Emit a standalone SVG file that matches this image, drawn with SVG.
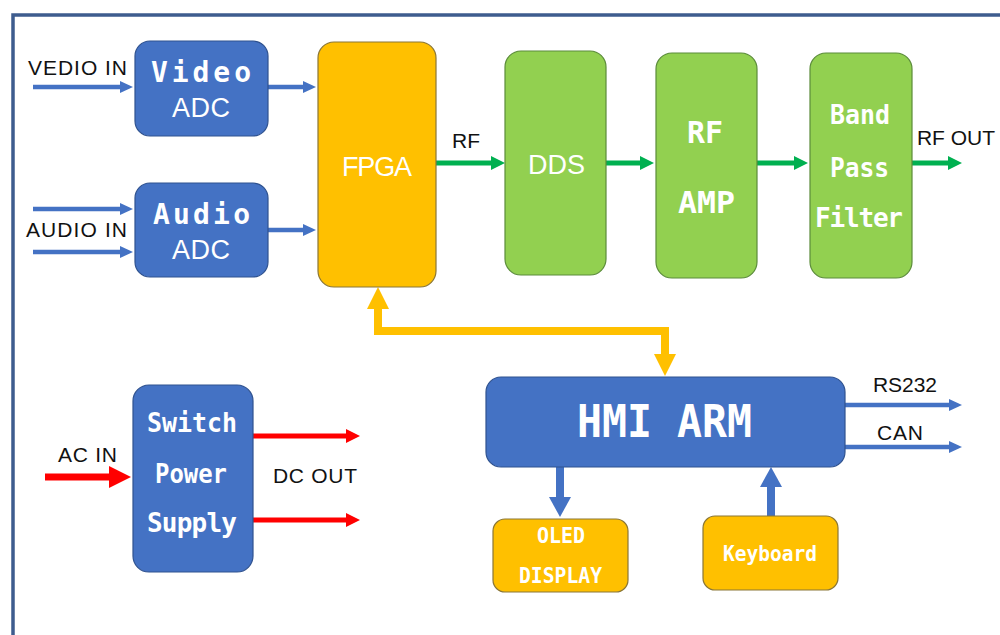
<svg xmlns="http://www.w3.org/2000/svg" width="1000" height="635" viewBox="0 0 1000 635">
<style>
.bg{fill:#ffffff}
.frame{fill:none;stroke:#3E5C8E;stroke-width:3.5}
.blue{fill:#4472C4;stroke:#2F528F;stroke-width:1.2}
.yellow{fill:#FFC000;stroke:#8A7636;stroke-width:1.2}
.green{fill:#92D050;stroke:#5B8C3A;stroke-width:1.2}
.bold{font-family:"DejaVu Sans Mono","Liberation Mono",monospace;font-weight:bold;fill:#ffffff;text-anchor:middle}
.light{font-family:"Liberation Sans","Noto Sans",sans-serif;fill:#ffffff;text-anchor:middle}
.lbl{font-family:"Liberation Sans","Noto Sans",sans-serif;fill:#111111;text-anchor:middle;font-size:21px}
.cb{fill:none;stroke:#4472C4;stroke-width:4.5}
.cbb{fill:none;stroke:#4472C4;stroke-width:8}
.cg{fill:none;stroke:#00B050;stroke-width:5}
.cr{fill:none;stroke:#FF0000;stroke-width:5}
.crb{fill:none;stroke:#FF0000;stroke-width:7}
.cy{fill:none;stroke:#FFC000;stroke-width:8}
</style>
<defs>
<marker id="hb" viewBox="0 0 13 12" markerWidth="13" markerHeight="12" refX="1" refY="6" orient="auto" markerUnits="userSpaceOnUse"><path d="M0,0 L13,6 L0,12 z" fill="#4472C4"/></marker>
<marker id="hbb" viewBox="0 0 20 22" markerWidth="20" markerHeight="22" refX="1" refY="11" orient="auto" markerUnits="userSpaceOnUse"><path d="M0,0 L20,11 L0,22 z" fill="#4472C4"/></marker>
<marker id="hg" viewBox="0 0 14 14" markerWidth="14" markerHeight="14" refX="1" refY="7" orient="auto" markerUnits="userSpaceOnUse"><path d="M0,0 L14,7 L0,14 z" fill="#00B050"/></marker>
<marker id="hr" viewBox="0 0 14 14" markerWidth="14" markerHeight="14" refX="1" refY="7" orient="auto" markerUnits="userSpaceOnUse"><path d="M0,0 L14,7 L0,14 z" fill="#FF0000"/></marker>
<marker id="hrb" viewBox="0 0 22 22" markerWidth="22" markerHeight="22" refX="1" refY="11" orient="auto" markerUnits="userSpaceOnUse"><path d="M0,0 L22,11 L0,22 z" fill="#FF0000"/></marker>
<marker id="hy" viewBox="0 0 22 22" markerWidth="22" markerHeight="22" refX="1" refY="11" orient="auto-start-reverse" markerUnits="userSpaceOnUse"><path d="M0,0 L22,11 L0,22 z" fill="#FFC000"/></marker>
</defs>
<rect class="bg" x="0" y="0" width="1000" height="635"/>
<path class="frame" d="M13,635 V15 H1000"/>

<g id="connectors">
<path class="cb" d="M33,87 H121" marker-end="url(#hb)"/>
<path class="cb" d="M33,209 H121" marker-end="url(#hb)"/>
<path class="cb" d="M33,252 H121" marker-end="url(#hb)"/>
<path class="cb" d="M268,87 H304" marker-end="url(#hb)"/>
<path class="cb" d="M268,230 H304" marker-end="url(#hb)"/>
<path class="cg" d="M436,163 H492" marker-end="url(#hg)"/>
<path class="cg" d="M606,163 H641" marker-end="url(#hg)"/>
<path class="cg" d="M757,163 H795" marker-end="url(#hg)"/>
<path class="cg" d="M912,163 H949" marker-end="url(#hg)"/>
<path class="cb" d="M845,405 H950" marker-end="url(#hb)"/>
<path class="cb" d="M845,447 H950" marker-end="url(#hb)"/>
<path class="crb" d="M45,477 H110" marker-end="url(#hrb)"/>
<path class="cr" d="M253,436 H347" marker-end="url(#hr)"/>
<path class="cr" d="M253,520 H347" marker-end="url(#hr)"/>
<path class="cbb" d="M560,467 V498" marker-end="url(#hbb)"/>
<path class="cbb" d="M771,516 V486" marker-end="url(#hbb)"/>
<path class="cy" d="M378,308 V331 H665 V355" marker-start="url(#hy)" marker-end="url(#hy)"/>
</g>

<g id="video-adc">
<rect class="blue" x="135" y="41" width="133" height="95" rx="15"/>
<text class="bold" x="201" y="82" font-size="28" textLength="100" lengthAdjust="spacing">Video</text>
<text class="light" x="201" y="117" font-size="27" textLength="58">ADC</text>
</g>
<g id="audio-adc">
<rect class="blue" x="135" y="183" width="133" height="94" rx="15"/>
<text class="bold" x="201.5" y="224" font-size="28" textLength="97" lengthAdjust="spacing">Audio</text>
<text class="light" x="201" y="259" font-size="27" textLength="58">ADC</text>
</g>
<g id="fpga">
<rect class="yellow" x="318" y="42" width="118" height="245" rx="16"/>
<text class="light" x="377" y="176" font-size="27" textLength="70">FPGA</text>
</g>
<g id="dds">
<rect class="green" x="505" y="51" width="101" height="224" rx="16"/>
<text class="light" x="556.5" y="174" font-size="27" textLength="57">DDS</text>
</g>
<g id="rf-amp">
<rect class="green" x="656" y="53" width="101" height="225" rx="16"/>
<text class="bold" x="705" y="143" font-size="30" textLength="36" lengthAdjust="spacingAndGlyphs">RF</text>
<text class="bold" x="706.5" y="213" font-size="31" textLength="57" lengthAdjust="spacingAndGlyphs">AMP</text>
</g>
<g id="band-pass-filter">
<rect class="green" x="810" y="53" width="102" height="225" rx="16"/>
<text class="bold" x="860" y="124" font-size="26" textLength="60" lengthAdjust="spacingAndGlyphs">Band</text>
<text class="bold" x="859.5" y="177" font-size="26" textLength="59" lengthAdjust="spacingAndGlyphs">Pass</text>
<text class="bold" x="859" y="227" font-size="26" textLength="88" lengthAdjust="spacing">Filter</text>
</g>
<g id="switch-power-supply">
<rect class="blue" x="133" y="385" width="120" height="187" rx="16"/>
<text class="bold" x="192" y="432" font-size="26" textLength="90" lengthAdjust="spacingAndGlyphs">Switch</text>
<text class="bold" x="191" y="483" font-size="26" textLength="72" lengthAdjust="spacingAndGlyphs">Power</text>
<text class="bold" x="192" y="532" font-size="26" textLength="90" lengthAdjust="spacing">Supply</text>
</g>
<g id="hmi-arm">
<rect class="blue" x="486" y="377" width="359" height="90" rx="15"/>
<text class="bold" x="664.5" y="437" font-size="44" textLength="175" lengthAdjust="spacingAndGlyphs">HMI ARM</text>
</g>
<g id="oled-display">
<rect class="yellow" x="493" y="519" width="135" height="73" rx="12"/>
<text class="bold" x="561" y="543" font-size="21" textLength="48" lengthAdjust="spacingAndGlyphs">OLED</text>
<text class="bold" x="560.5" y="583" font-size="21" textLength="83" lengthAdjust="spacingAndGlyphs">DISPLAY</text>
</g>
<g id="keyboard">
<rect class="yellow" x="703" y="516" width="135" height="74" rx="12"/>
<text class="bold" x="770" y="561" font-size="21" textLength="94" lengthAdjust="spacingAndGlyphs">Keyboard</text>
</g>

<g id="labels">
<text class="lbl" x="77.5" y="75" textLength="99">VEDIO IN</text>
<text class="lbl" x="76.5" y="237" textLength="101">AUDIO IN</text>
<text class="lbl" x="466" y="148" font-size="20">RF</text>
<text class="lbl" x="956" y="145" font-size="20">RF OUT</text>
<text class="lbl" x="87.5" y="462" textLength="59">AC IN</text>
<text class="lbl" x="315" y="483" textLength="84">DC OUT</text>
<text class="lbl" x="905" y="392" textLength="64">RS232</text>
<text class="lbl" x="900" y="440" textLength="46">CAN</text>
</g>
</svg>
